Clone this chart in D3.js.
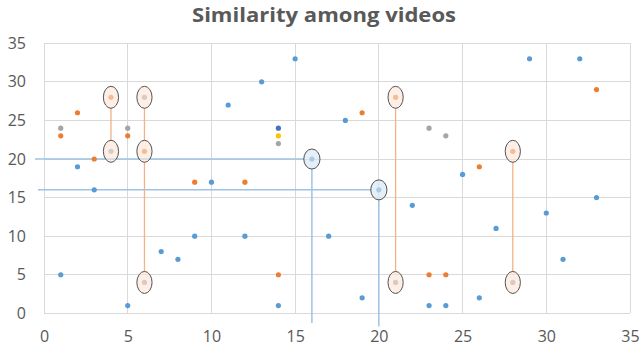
<!DOCTYPE html>
<html>
<head>
<meta charset="utf-8">
<script src="https://cdn.jsdelivr.net/npm/d3@7"></script>
<style>
html,body{margin:0;padding:0;background:#fff;}
svg{display:block;}
</style>
</head>
<body>
<svg id="chart" width="641" height="352"></svg>
<script>
const title = "Similarity among videos";
const tickValues = [0, 5, 10, 15, 20, 25, 30, 35];

const blueX = [1,2,3,5,7,8,9,10,11,12,13,14,15,16,17,18,19,20,22,23,24,25,26,27,29,30,31,32,33];
const blueY = [5,19,16,1,8,7,10,17,27,10,30,1,33,20,10,25,2,16,14,1,1,18,2,11,33,13,7,33,15];

const orangeX = [1,2,3,4,5,6,9,12,14,19,21,23,24,26,28,33];
const orangeY = [23,26,20,28,23,21,17,17,5,26,28,5,5,19,21,29];

const grayX = [1,4,5,6,6,14,21,23,24,28];
const grayY = [24,21,24,28,4,22,4,24,23,4];

const yellowX = [14];
const yellowY = [23];

const navyX = [14];
const navyY = [24];

// highlighted groups (orange ellipses connected vertically)
const orangeGroupX = [4, 6, 21, 28];
const orangeGroupYs = [[28, 21], [28, 21, 4], [28, 4], [21, 4]];

// highlighted blue points with guide lines
const blueMarkX = [16, 20];
const blueMarkY = [20, 16];
const blueGuideStartX = [-0.54, -0.36];
const blueGuideEndY = [-1.25, -1.7];

const svg = d3.select("#chart");
const x = d3.scaleLinear().domain([0, 35]).range([44, 630]);
const y = d3.scaleLinear().domain([0, 35]).range([313.3, 43.3]);

const gridColor = "#d9d9d9";
const textColor = "#595959";

// gridlines
svg.append("g").selectAll("line.v").data(tickValues).join("line")
  .attr("x1", d => x(d)).attr("x2", d => x(d))
  .attr("y1", y(0)).attr("y2", y(35))
  .attr("stroke", gridColor).attr("stroke-width", 1).attr("shape-rendering", "crispEdges");
svg.append("g").selectAll("line.h").data(tickValues).join("line")
  .attr("y1", d => y(d)).attr("y2", d => y(d))
  .attr("x1", x(0)).attr("x2", x(35))
  .attr("stroke", gridColor).attr("stroke-width", 1).attr("shape-rendering", "crispEdges");

// axes (labels only)
const xAxis = d3.axisBottom(x).tickValues(tickValues).tickSize(0).tickPadding(0);
const gx = svg.append("g").attr("transform", "translate(0,331)").call(xAxis);
gx.select(".domain").remove();
gx.selectAll("text").attr("font-family", "'Open Sans', sans-serif").attr("font-size", 16)
  .attr("fill", textColor).attr("dy", "0.71em");

const yAxis = d3.axisLeft(y).tickValues(tickValues).tickSize(0).tickPadding(0);
const gy = svg.append("g").attr("transform", "translate(26,0)").call(yAxis);
gy.select(".domain").remove();
gy.selectAll("text").attr("font-family", "'Open Sans', sans-serif").attr("font-size", 16)
  .attr("fill", textColor);

// title
svg.append("text").attr("x", 324).attr("y", 21.5).attr("text-anchor", "middle")
  .attr("font-family", "'Open Sans', sans-serif").attr("font-weight", "bold")
  .attr("font-size", 20).attr("textLength", 264).attr("lengthAdjust", "spacingAndGlyphs")
  .attr("fill", textColor).text(title);

// blue guide lines
const blueLineColor = "#9dc3e6";
const erx = 7.6, ery = 11;
blueMarkX.forEach((mx, i) => {
  const my = blueMarkY[i];
  svg.append("line")
    .attr("x1", x(blueGuideStartX[i])).attr("x2", x(mx) - erx)
    .attr("y1", y(my)).attr("y2", y(my))
    .attr("stroke", blueLineColor).attr("stroke-width", 1.5);
  svg.append("line")
    .attr("x1", x(mx)).attr("x2", x(mx))
    .attr("y1", y(my) + ery - 1).attr("y2", y(blueGuideEndY[i]))
    .attr("stroke", blueLineColor).attr("stroke-width", 1.5);
});

// orange connectors
const orangeLineColor = "#f4b183";
orangeGroupX.forEach((gxv, i) => {
  const ys = orangeGroupYs[i];
  for (let k = 0; k < ys.length - 1; k++) {
    svg.append("line")
      .attr("x1", x(gxv)).attr("x2", x(gxv))
      .attr("y1", y(ys[k]) + ery).attr("y2", y(ys[k + 1]) - ery)
      .attr("stroke", orangeLineColor).attr("stroke-width", 1.3);
  }
});

// points
function drawSeries(xs, ys, color) {
  svg.append("g").selectAll("circle").data(xs).join("circle")
    .attr("cx", d => x(d)).attr("cy", (d, i) => y(ys[i]))
    .attr("r", 2.6).attr("fill", color);
}
drawSeries(blueX, blueY, "#5b9bd5");
drawSeries(orangeX, orangeY, "#ed7d31");
drawSeries(grayX, grayY, "#a5a5a5");
drawSeries(yellowX, yellowY, "#ffc000");
drawSeries(navyX, navyY, "#4472c4");

// ellipses
orangeGroupX.forEach((gxv, i) => {
  orangeGroupYs[i].forEach(v => {
    svg.append("ellipse").attr("cx", x(gxv)).attr("cy", y(v))
      .attr("rx", erx).attr("ry", ery)
      .attr("fill", "#fbe5d6").attr("fill-opacity", 0.6)
      .attr("stroke", "#404040").attr("stroke-width", 0.9);
  });
});
blueMarkX.forEach((mx, i) => {
  svg.append("ellipse").attr("cx", x(mx)).attr("cy", y(blueMarkY[i]))
    .attr("rx", erx + 0.5).attr("ry", ery - 1)
    .attr("fill", "#d6e6f5").attr("fill-opacity", 0.65)
    .attr("stroke", "#404040").attr("stroke-width", 0.9);
});
</script>
</body>
</html>
